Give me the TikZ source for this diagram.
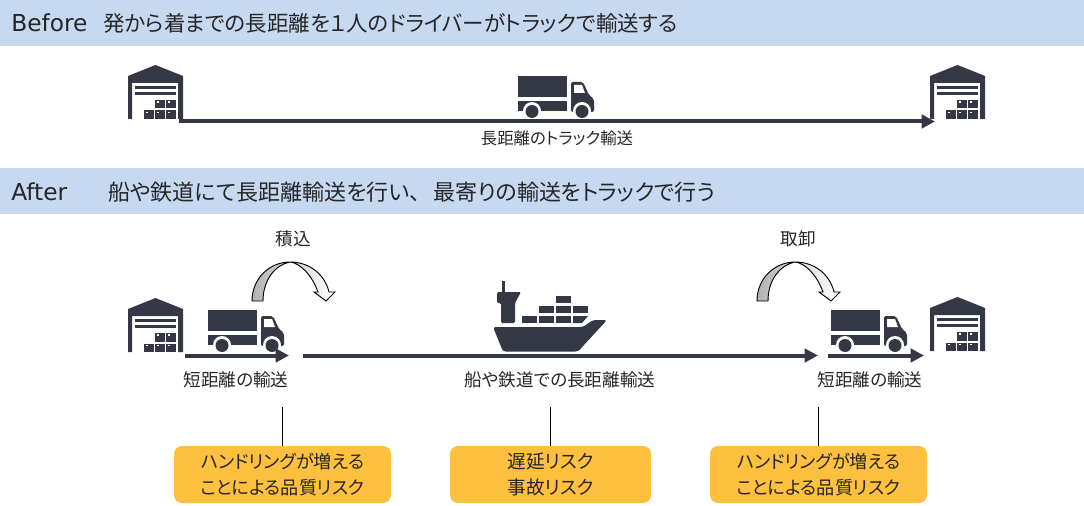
\documentclass[tikz,border=0pt]{standalone}
\usepackage{fontspec}
\setmainfont{DejaVu Sans}
\newfontfamily\jpfont[RawFeature=+palt]{Noto Sans CJK JP}
\usepackage{xcolor}
\usetikzlibrary{arrows.meta}
\usetikzlibrary{positioning}
\definecolor{iconc}{HTML}{343844}
\definecolor{bandc}{HTML}{C6D9F1}
\definecolor{riskc}{HTML}{FFBF3F}
\definecolor{textc}{HTML}{262626}

\tikzset{
  band/.style={fill=bandc, minimum width=813pt, minimum height=34.5pt, inner sep=0pt},
  headlat/.style={anchor=base west, inner sep=0pt, text=textc, font=\fontsize{17.5}{20}\selectfont},
  headjp/.style={anchor=base west, inner sep=0pt, text=textc, font=\jpfont\fontsize{16.1}{20}\selectfont},
  lab/.style={inner sep=0pt, text=textc, font=\jpfont\fontsize{13.2}{15}\selectfont},
  risk/.style={fill=riskc, rounded corners=6pt, minimum width=162.75pt, minimum height=42.75pt,
    inner sep=0pt, align=center, text=textc, font=\jpfont\fontsize{13.6}{19.5}\selectfont},
  haul/.style={draw=iconc, line width=3pt, -{Triangle[length=10pt,width=10pt]}},
  lead/.style={draw=black, line width=0.6pt},
  swing/.style={draw=black, line width=0.7pt, left color=black!30, right color=white},
  depot/.pic={
    \fill[iconc] (0,0) -- (0,-43) -- (27.5,-54) -- (55,-43) -- (55,0) -- (50,0) -- (50,-36)
      -- (4,-36) -- (4,0) -- cycle;
    \fill[iconc] (7,-33) rectangle (48,-30);
    \fill[iconc] (7,-27) rectangle (48,-24);
    \foreach \bx/\by in {16/-8.5, 27/-8.5, 38/-8.5, 27/-19, 38/-19} {
      \fill[iconc] (\bx,\by) rectangle ++(10,8.5);
      \fill[white] (\bx+1.5,\by+1.2) rectangle ++(2,1.6);
    }
  },
  lorry/.pic={
    \fill[iconc] (0,-42) rectangle (49,-21);
    \fill[iconc] (0,-17) rectangle (49,-7);
    \fill[iconc, rounded corners=1.5pt] (53,-36) -- (65,-36) -- (71,-23) -- (76,-19) -- (76,-6)
      -- (53,-6) -- cycle;
    \fill[white] (56,-33) -- (64,-33) -- (67,-25) -- (56,-25) -- cycle;
    \fill[white] (14,-7) circle [radius=9];
    \fill[white] (64,-7) circle [radius=9];
    \fill[iconc] (14,-6.5) circle [radius=6.5];
    \fill[iconc] (64,-6.5) circle [radius=6.5];
  },
  vessel/.pic={
    \fill[iconc] (502,281) rectangle (505,293);
    \fill[iconc, rounded corners=1pt] (497,292) -- (521,292) -- (515,303) -- (515,323) -- (501,323)
      -- (501,303) -- (497,303) -- cycle;
    \foreach \cx/\cy in {522/316, 539/316, 556/316, 539/306, 556/306, 573/306, 556/296} {
      \fill[iconc] (\cx,\cy) rectangle ++(15,7);
    }
    \fill[iconc] (573,316) -- (588,316) -- (582,323) -- (573,323) -- cycle;
    \fill[iconc, rounded corners=2pt] (493,327) -- (583,327) -- (593,320) -- (607,320) -- (578,351.5)
      -- (503,351.5) -- cycle;
  },
  lift/.pic={
    \path[swing] (0,0) .. controls (0,-23) and (18,-39) .. (38,-39)
      .. controls (58,-39) and (73,-26) .. (77,-9) -- (83,-9) -- (74,0) -- (62,-9) -- (66,-9)
      .. controls (60,-26) and (48,-38) .. (38,-39)
      .. controls (23,-36) and (11,-21) .. (11,0) -- cycle;
  }
}

\begin{document}
\begin{tikzpicture}[x=0.75pt, y=-0.75pt]
  \useasboundingbox (0,0) rectangle (1084,506);

  % before
  \node[band] (head0) at (542,23) {};
  \node[headlat] (before) at (11,32) {Before};
  \node[headjp] (title0) at (103,32) {発から着までの長距離を１人のドライバーがトラックで輸送する};

  \pic at (128,119) {depot};
  \pic at (930,119) {depot};
  \pic at (518,118) {lorry};
  \coordinate (b0) at (179,121.5);
  \coordinate (b1) at (935,121.5);
  \draw[haul] (b0) -- (b1);
  \node[lab, font=\jpfont\fontsize{12.3}{15}\selectfont] (far) at (557,138) {長距離のトラック輸送};

  % after
  \node[band] (head1) at (542,191) {};
  \node[headlat] (after) at (11,200) {After};
  \node[headjp, font=\jpfont\fontsize{16.5}{20}\selectfont] (title1) at (108,200) {船や鉄道にて長距離輸送を行い、\hspace{0.6em}最寄りの輸送をトラックで行う};

  \pic at (128,352) {depot};
  \pic at (930,351) {depot};
  \pic at (208,352) {lorry};
  \pic at (831,352) {lorry};
  \pic at (0,0) {vessel};

  \coordinate (a0) at (185,355.5);
  \coordinate (a1) at (289,355.5);
  \coordinate (a2) at (303,355.5);
  \coordinate (a3) at (818,355.5);
  \coordinate (a4) at (828,355.5);
  \coordinate (a5) at (924,355.5);
  \draw[haul] (a0) -- (a1);
  \draw[haul] (a2) -- (a3);
  \draw[haul] (a4) -- (a5);

  \pic at (252,301) {lift};
  \pic at (757,301) {lift};
  \node[lab] (load) at (293,239) {積込};
  \node[lab] (unload) at (798,239) {取卸};

  \node[lab] (near0) at (236,380) {短距離の輸送};
  \node[lab] (long) at (560,380) {船や鉄道での長距離輸送};
  \node[lab] (near1) at (870,380) {短距離の輸送};

  \node[risk] (risk0) at (282.5,474.5) {ハンドリングが増える\\ことによる品質リスク};
  \node[risk, minimum width=150.75pt, font=\jpfont\fontsize{14}{19.5}\selectfont] (risk1) at (550.5,474.5) {遅延リスク\\事故リスク};
  \node[risk] (risk2) at (818.5,474.5) {ハンドリングが増える\\ことによる品質リスク};

  \coordinate (c0) at (282.5,407);
  \coordinate (c1) at (550.5,407);
  \coordinate (c2) at (818.5,407);
  \draw[lead] (c0) -- (risk0.north);
  \draw[lead] (c1) -- (risk1.north);
  \draw[lead] (c2) -- (risk2.north);
\end{tikzpicture}
\end{document}
